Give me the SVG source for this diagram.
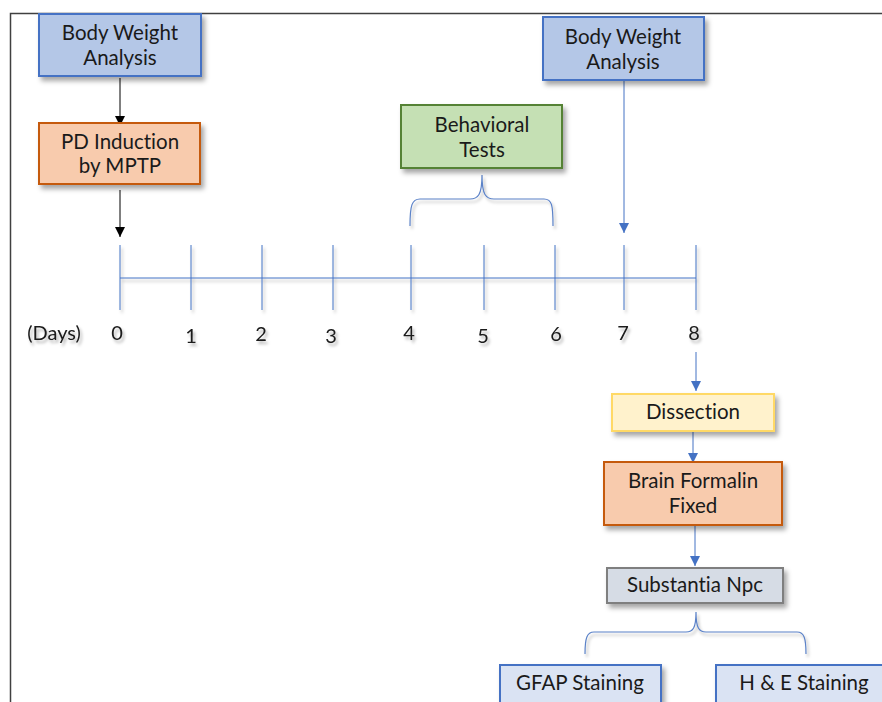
<svg xmlns="http://www.w3.org/2000/svg" width="882" height="702" viewBox="0 0 882 702">
  <defs>
    <style>
      text { font-family: Lato, "Open Sans", "Liberation Sans", sans-serif; fill: #1a1a1a; font-variant-ligatures: none; font-feature-settings: "liga" 0, "clig" 0; }
      .lbl { font-size: 20.5px; text-anchor: middle; }
      .num { font-size: 20px; text-anchor: middle; }
      .box { stroke-width: 2; }
      .blue { fill: #b4c7e7; stroke: #4472c4; }
      .orange { fill: #f8cbad; stroke: #c55a11; }
      .green { fill: #c5e0b4; stroke: #548235; }
      .yellow { fill: #fff2cc; stroke: #ffd966; }
      .gray { fill: #d6dce5; stroke: #7f7f7f; }
      .lightblue { fill: #dae3f3; stroke: #4472c4; }
      .tl { stroke: #4472c4; stroke-width: 1; fill: none; }
      .brace { stroke: #5b82c8; stroke-width: 1.2; fill: none; }
      .conn-k { stroke: #000; stroke-width: 1; fill: none; }
      .conn-b { stroke: #4472c4; stroke-width: 1; fill: none; }
    </style>
    <filter id="shadow" x="-10%" y="-10%" width="130%" height="140%">
      <feDropShadow dx="3" dy="4" stdDeviation="2.5" flood-color="#000" flood-opacity="0.35"/>
    </filter>
    <filter id="tshadow" x="-30%" y="-30%" width="180%" height="180%">
      <feDropShadow dx="2" dy="3" stdDeviation="1.5" flood-color="#000" flood-opacity="0.3"/>
    </filter>
    <marker id="ak" markerWidth="10" markerHeight="10" refX="10" refY="5" orient="auto" markerUnits="userSpaceOnUse">
      <path d="M0,0 L10,5 L0,10 Z" fill="#000"/>
    </marker>
    <marker id="ab" markerWidth="10" markerHeight="10" refX="10" refY="5" orient="auto" markerUnits="userSpaceOnUse">
      <path d="M0,0 L10,5 L0,10 Z" fill="#4472c4"/>
    </marker>
  </defs>

  <rect x="0" y="0" width="882" height="702" fill="#fff"/>
  <!-- page frame -->
  <path d="M10.5,702 V13.5 H882" fill="none" stroke="#404040" stroke-width="1.5"/>

  <!-- connectors -->
  <g id="connectors">
    <line class="conn-k" x1="120" y1="78" x2="120" y2="126" marker-end="url(#ak)"/>
    <line class="conn-k" x1="120" y1="190" x2="120" y2="237" marker-end="url(#ak)"/>
    <line class="conn-b" x1="624" y1="80" x2="624" y2="233" marker-end="url(#ab)"/>
    <line class="conn-b" x1="696" y1="352" x2="696" y2="391" marker-end="url(#ab)"/>
    <line class="conn-b" x1="693" y1="432" x2="693" y2="463" marker-end="url(#ab)"/>
    <line class="conn-b" x1="695" y1="526" x2="695" y2="566" marker-end="url(#ab)"/>
    <!-- braces -->
    <path class="brace" d="M482,175 C482,195 478,199 470,199 H420 C412,199 410,205 410,226 M482,175 C482,195 486,199 494,199 H544 C552,199 553,205 553,226" filter="url(#tshadow)"/>
    <path class="brace" d="M696,612 C696,628 693,632 686,632 H594 C587,632 585,638 585,654 M696,612 C696,628 699,632 706,632 H797 C804,632 806,638 806,654" filter="url(#tshadow)"/>
  </g>

  <!-- timeline -->
  <g id="timeline" filter="url(#tshadow)">
    <line class="tl" x1="120" y1="278" x2="696" y2="278"/>
    <path class="tl" d="M120,245V310 M191,245V310 M262,245V310 M333,245V310 M411,245V310 M484,245V310 M555,245V310 M624,245V310 M696,245V310"/>
  </g>
  <g id="day-labels" filter="url(#tshadow)">
    <text class="num" x="54" y="340">(Days)</text>
    <text class="num" x="117" y="340">0</text>
    <text class="num" x="191" y="343">1</text>
    <text class="num" x="261" y="341">2</text>
    <text class="num" x="331" y="343">3</text>
    <text class="num" x="409" y="340">4</text>
    <text class="num" x="483" y="343">5</text>
    <text class="num" x="556" y="341">6</text>
    <text class="num" x="623" y="340">7</text>
    <text class="num" x="694" y="340">8</text>
  </g>

  <g id="body-weight-1">
    <rect class="box blue" x="39" y="14" width="162" height="62" filter="url(#shadow)"/>
    <text class="lbl" x="120" y="40">Body Weight</text>
    <text class="lbl" x="120" y="65">Analysis</text>
  </g>
  <g id="pd-induction">
    <rect class="box orange" x="39" y="123" width="161" height="61" filter="url(#shadow)"/>
    <text class="lbl" x="120" y="149">PD Induction</text>
    <text class="lbl" x="120" y="173">by MPTP</text>
  </g>
  <g id="behavioral-tests">
    <rect class="box green" x="401" y="105" width="161" height="63" filter="url(#shadow)"/>
    <text class="lbl" x="482" y="132">Behavioral</text>
    <text class="lbl" x="482" y="157">Tests</text>
  </g>
  <g id="body-weight-2">
    <rect class="box blue" x="543" y="17" width="161" height="63" filter="url(#shadow)"/>
    <text class="lbl" x="623" y="44">Body Weight</text>
    <text class="lbl" x="623" y="69">Analysis</text>
  </g>
  <g id="dissection">
    <rect class="box yellow" x="612" y="394" width="162" height="37" filter="url(#shadow)"/>
    <text class="lbl" x="693" y="419">Dissection</text>
  </g>
  <g id="brain-formalin">
    <rect class="box orange" x="604" y="462" width="178" height="63" filter="url(#shadow)"/>
    <text class="lbl" x="693" y="488">Brain Formalin</text>
    <text class="lbl" x="693" y="513">Fixed</text>
  </g>
  <g id="substantia">
    <rect class="box gray" x="607" y="568" width="176" height="35" filter="url(#shadow)"/>
    <text class="lbl" x="695" y="592">Substantia Npc</text>
  </g>
  <g id="gfap">
    <rect class="box lightblue" x="500" y="665" width="161" height="40" filter="url(#shadow)"/>
    <text class="lbl" x="580" y="690">GFAP Staining</text>
  </g>
  <g id="he">
    <rect class="box lightblue" x="716" y="665" width="170" height="40" filter="url(#shadow)"/>
    <text class="lbl" x="804" y="690">H &amp; E Staining</text>
  </g>
</svg>
